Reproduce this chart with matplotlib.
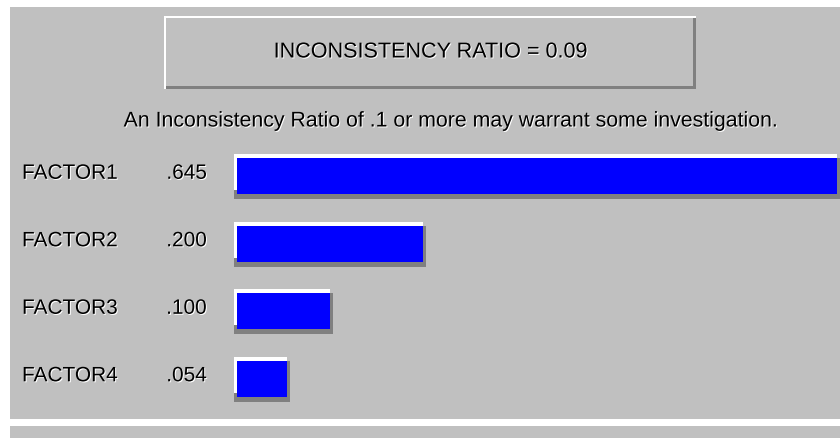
import matplotlib
matplotlib.use("Agg")
import matplotlib.pyplot as plt
import matplotlib.patheffects as pe
from matplotlib.patches import Rectangle
from matplotlib.transforms import blended_transform_factory

# data
factors = ["FACTOR1", "FACTOR2", "FACTOR3", "FACTOR4"]
weights = [0.645, 0.200, 0.100, 0.054]
weight_labels = [".645", ".200", ".100", ".054"]
title_text = "INCONSISTENCY RATIO = 0.09"
note_text = "An Inconsistency Ratio of .1 or more may warrant some investigation."

W, H = 840, 439
gray = "#c0c0c0"
dark = "#808080"

plt.rcParams["font.family"] = ["Liberation Sans", "DejaVu Sans"]

fig = plt.figure(figsize=(W / 100, H / 100), dpi=100)
fig.patch.set_facecolor("white")


def fit_width(texts, target):
    # scale font size so the first text spans `target` pixels
    fig.canvas.draw()
    r = fig.canvas.get_renderer()
    w = texts[0].get_window_extent(r).width
    for t in texts:
        t.set_fontsize(t.get_fontsize() * target / w)


# background panel, pixel coords (y down)
bg = fig.add_axes([0, 0, 1, 1])
bg.set_xlim(0, W)
bg.set_ylim(H, 0)
bg.axis("off")
bg.add_patch(Rectangle((10, 8), W - 10, 412, color=gray, lw=0))
bg.add_patch(Rectangle((10, 427), W - 10, H - 427, color=gray, lw=0))

# the "button" holding the ratio
bg.add_patch(Rectangle((164, 17), 532, 73, color="white", lw=0))
bg.add_patch(Rectangle((166, 19), 530, 71, color=dark, lw=0))
bg.add_patch(Rectangle((166, 19), 527, 68, color=gray, lw=0))

emboss = [pe.withSimplePatchShadow(offset=(0.7, -0.7), shadow_rgbFace="white", alpha=1.0)]

t_title = bg.text(430, 53, title_text, ha="center", va="center", fontsize=16,
                  color="black", path_effects=emboss)
t_note = bg.text(450, 122, note_text, ha="center", va="center", fontsize=16,
                 color="black", path_effects=emboss)

# bars
px = 0.72  # points per pixel at dpi 100
left_px, scale = 237, 930
ax = fig.add_axes([left_px / W, (H - 413.25) / H, (W - left_px) / W, 270 / H])
ax.set_xlim(0, (W - left_px) / scale)
ax.set_ylim(len(factors) - 0.5, -0.5)
ax.axis("off")

bevel = [
    pe.SimplePatchShadow(offset=(3 * px, -5 * px), shadow_rgbFace=dark, alpha=1.0),
    pe.SimplePatchShadow(offset=(0, -5 * px), shadow_rgbFace=dark, alpha=1.0),
    pe.SimplePatchShadow(offset=(-3 * px, -5 * px), shadow_rgbFace=dark, alpha=1.0),
    pe.SimplePatchShadow(offset=(3 * px, 0), shadow_rgbFace=dark, alpha=1.0),
    pe.SimplePatchShadow(offset=(-3 * px, 4 * px), shadow_rgbFace="white", alpha=1.0),
    pe.SimplePatchShadow(offset=(0, 4 * px), shadow_rgbFace="white", alpha=1.0),
    pe.Normal(),
]
bars = ax.barh(range(len(factors)), weights, height=36 / 67.5, color="#0000ff", lw=0)
for b in bars:
    b.set_path_effects(bevel)
    b.set_clip_on(False)

tr = blended_transform_factory(bg.transData, ax.transData)
name_texts, value_texts = [], []
for i, (name, lab) in enumerate(zip(factors, weight_labels)):
    name_texts.append(ax.text(22, i - 0.04, name, transform=tr, ha="left", va="center",
                              fontsize=16, color="black", path_effects=emboss))
    value_texts.append(ax.text(207, i - 0.04, lab, transform=tr, ha="right", va="center",
                               fontsize=16, color="black", path_effects=emboss))

fit_width([t_title], 314)
fit_width([t_note], 655)
fit_width(name_texts + value_texts, 96)

fig.savefig("out.png", dpi=100, facecolor="white")
